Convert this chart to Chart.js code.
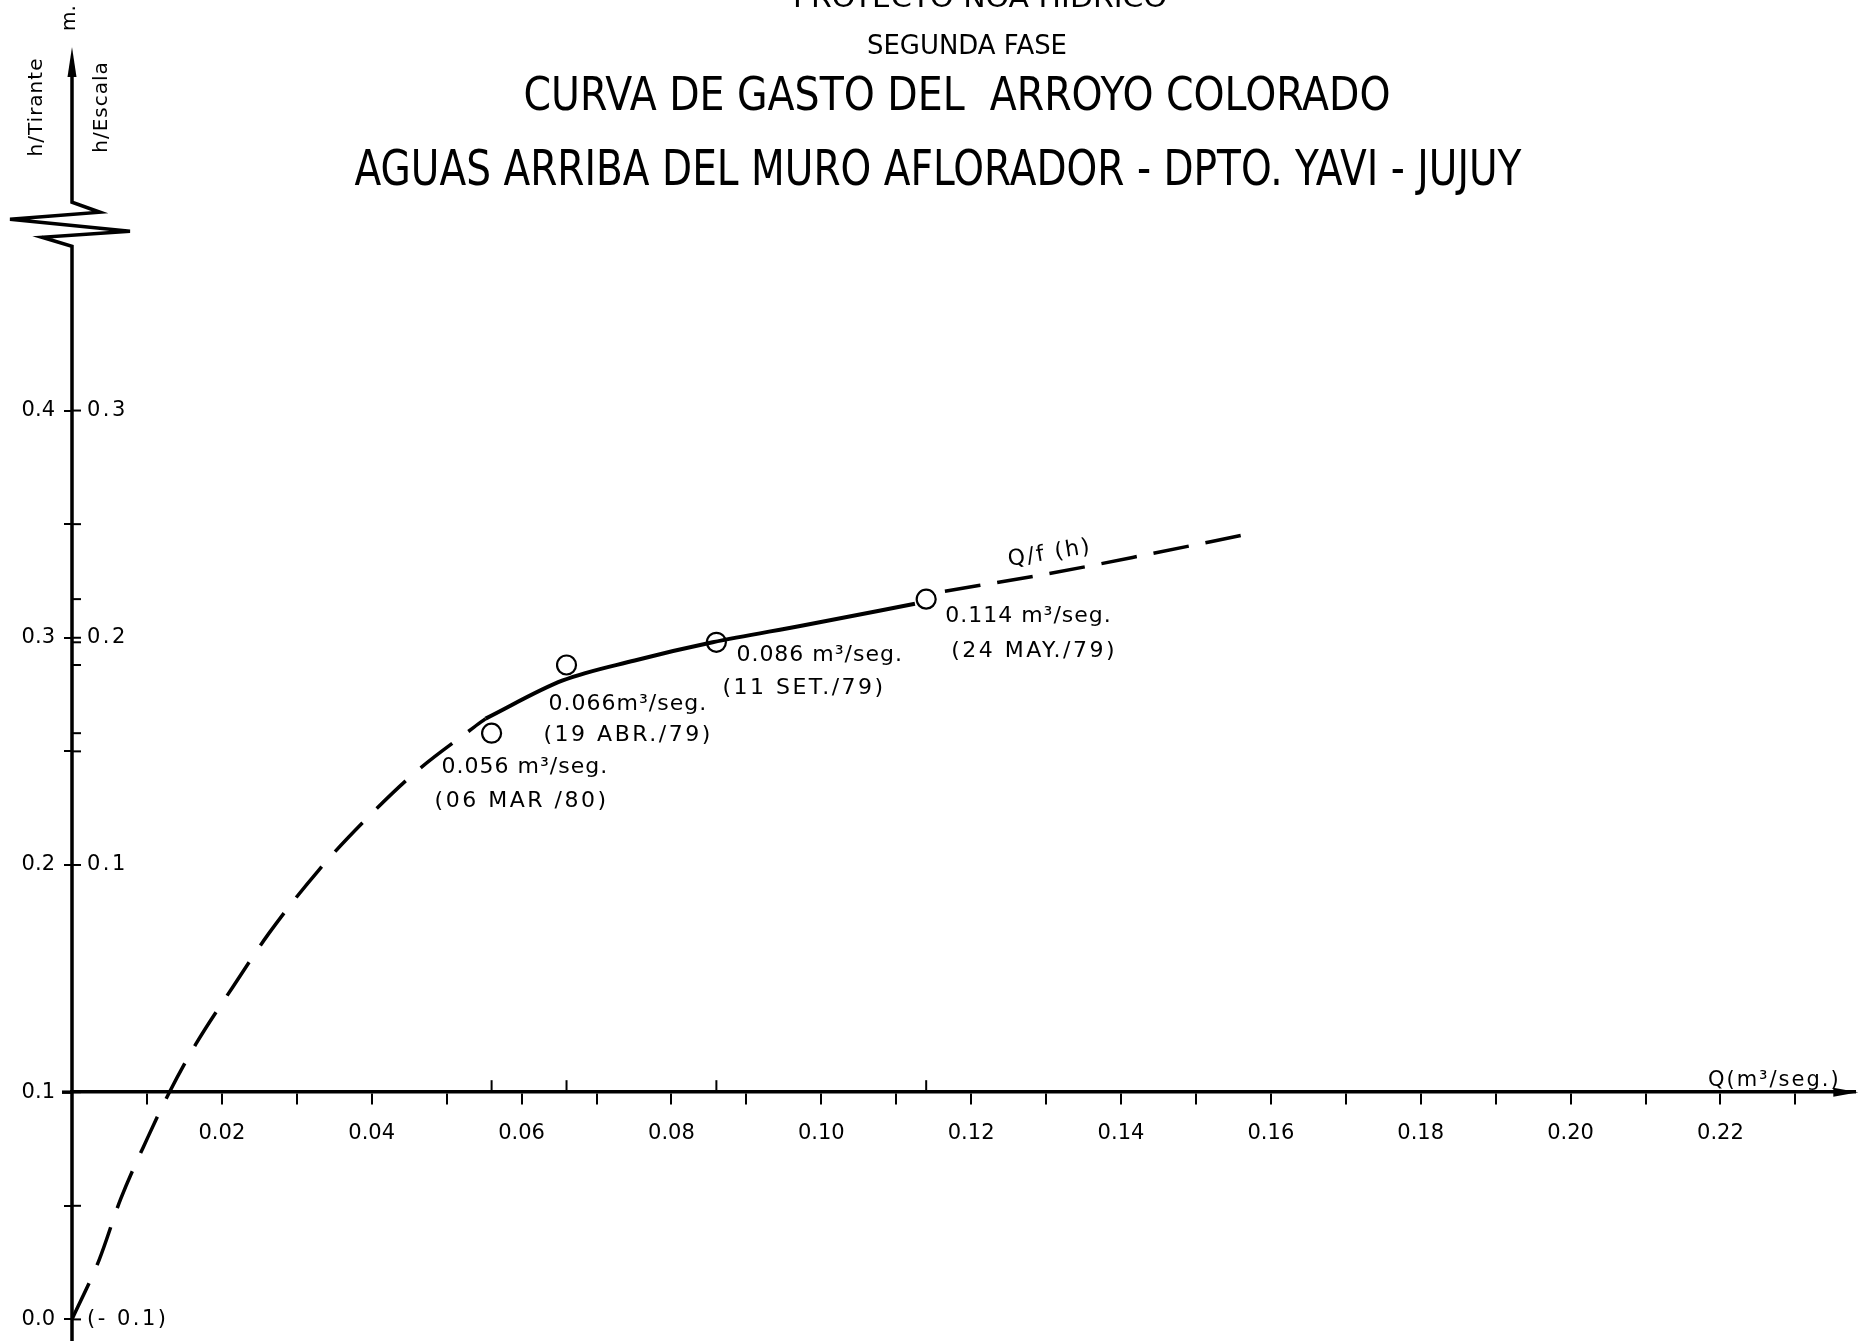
<!DOCTYPE html>
<html>
<head>
<meta charset="utf-8">
<script src="https://cdn.jsdelivr.net/npm/chart.js@4/dist/chart.umd.min.js"></script>
<style>
  html, body { margin: 0; padding: 0; background: #fff; }
  #wrap { width: 1867px; height: 1341px; }
</style>
</head>
<body>
<div id="wrap"><canvas id="curva" width="1867" height="1341"></canvas></div>
<script>
// Aforos medidos: caudal (m3/seg), tirante (m) y fecha
var aforoQ = [0.056, 0.066, 0.086, 0.114];
var aforoH = [0.258, 0.288, 0.298, 0.317];
var aforoFecha = ['(06 MAR /80)', '(19 ABR./79)', '(11 SET./79)', '(24 MAY./79)'];

// Curva Q = f(h): extrapolacion inferior, tramo ajustado y extrapolacion superior
var curvaInfQ = [0, 0.0036, 0.0065, 0.0101, 0.013, 0.0165, 0.0214, 0.0263, 0.033, 0.0392, 0.0459, 0.0534, 0.0552];
var curvaInfH = [0, 0.026, 0.053, 0.080, 0.100, 0.121, 0.146, 0.170, 0.198, 0.220, 0.241, 0.260, 0.2644];
var curvaQ = [0.0552, 0.0655, 0.0751, 0.0855, 0.0977, 0.1125];
var curvaH = [0.2644, 0.2812, 0.2900, 0.2980, 0.3055, 0.3150];
var curvaSupQ = [0.1165, 0.130, 0.1436, 0.156];
var curvaSupH = [0.3205, 0.328, 0.3367, 0.345];

// Ejes
var ejeXRotulos = [0.02, 0.04, 0.06, 0.08, 0.10, 0.12, 0.14, 0.16, 0.18, 0.20, 0.22];
var ejeYMarcas = [0, 0.05, 0.1, 0.2, 0.25, 0.3, 0.35, 0.4];
var ejeYRotulos = [0, 0.1, 0.2, 0.3, 0.4];
var escalaMarcas = [0, 0.2, 0.3, 0.4];
var escalaRotulos = ['(- 0.1)', '0.1', '0.2', '0.3'];

var titulos = ['PROYECTO NOA HIDRICO', 'SEGUNDA FASE', 'CURVA DE GASTO DEL  ARROYO COLORADO',
  'AGUAS ARRIBA DEL MURO AFLORADOR - DPTO. YAVI - JUJUY'];

var FUENTE = '"DejaVu Sans", "Liberation Sans", sans-serif';

function puntos(qs, hs) {
  return qs.map(function (q, i) { return { x: q, y: hs[i] }; });
}

function enLista(v, lista) {
  return lista.some(function (l) { return Math.abs(l - v) < 1e-6; });
}

function escribir(ctx, txt, x, y, o) {
  ctx.save();
  ctx.font = (o.size || 20) + 'px ' + FUENTE;
  ctx.letterSpacing = (o.spacing || 0) + 'px';
  ctx.textAlign = o.align || 'left';
  ctx.textBaseline = 'middle';
  ctx.fillStyle = '#000';
  ctx.translate(x, y);
  if (o.rot) ctx.rotate(o.rot);
  ctx.fillText(txt, 0, 0);
  ctx.restore();
}

// rotulos ajustados al ancho: centro x, centro y, altura de mayuscula, ancho
var titEstilo = [
  { cx: 980, cy: -3, cap: 20, w: 374 },
  { cx: 967, cy: 44, cap: 19, w: 200 },
  { cx: 957, cy: 93, cap: 34, w: 867 },
  { cx: 938, cy: 167, cap: 36, w: 1167 }
];

var rotDx = [-50, -18, 20, 19], rotDy = [34, 39, 13, 17];
var fecDx = [-57, -23, 6, 25], fecDy = [68, 70, 46, 52];
var rotSep = [' ', '', ' ', ' '];

var dibujoPlano = {
  id: 'dibujoPlano',
  afterDraw: function (chart) {
    var ctx = chart.ctx, xs = chart.scales.x, ys = chart.scales.y, area = chart.chartArea;
    var ejeX = area.left, ejeY = ys.getPixelForValue(0.1);

    ctx.save();
    ctx.strokeStyle = '#000';
    ctx.fillStyle = '#000';
    ctx.lineCap = 'butt';

    // titulos
    titulos.forEach(function (t, i) {
      var e = titEstilo[i];
      ctx.save();
      ctx.font = (e.cap / 0.73) + 'px ' + FUENTE;
      var w0 = ctx.measureText(t).width;
      ctx.translate(e.cx, e.cy + e.cap / 2);
      ctx.scale(e.w / w0, 1);
      ctx.textAlign = 'center';
      ctx.textBaseline = 'alphabetic';
      ctx.fillText(t, 0, 0);
      ctx.restore();
    });

    // eje vertical con corte y flecha
    var yc = ys.getPixelForValue(0.482);
    ctx.lineWidth = 3.5;
    ctx.beginPath();
    ctx.moveTo(ejeX, chart.height);
    ctx.lineTo(ejeX, yc + 22);
    ctx.lineTo(ejeX - 30, yc + 13);
    ctx.lineTo(ejeX + 58, yc + 7);
    ctx.lineTo(ejeX - 62, yc - 5);
    ctx.lineTo(ejeX + 28, yc - 12);
    ctx.lineTo(ejeX, yc - 22);
    ctx.lineTo(ejeX, area.top + 20);
    ctx.stroke();
    ctx.beginPath();
    ctx.moveTo(ejeX, area.top);
    ctx.lineTo(ejeX - 4.5, area.top + 30);
    ctx.lineTo(ejeX + 4.5, area.top + 30);
    ctx.closePath();
    ctx.fill();

    // prolongacion y flecha del eje de caudales
    ctx.beginPath();
    ctx.moveTo(ejeX - 10, ejeY);
    ctx.lineTo(ejeX, ejeY);
    ctx.stroke();
    ctx.beginPath();
    ctx.moveTo(area.right + 3, ejeY);
    ctx.lineTo(area.right - 22, ejeY - 4.5);
    ctx.lineTo(area.right - 22, ejeY + 4.5);
    ctx.closePath();
    ctx.fill();

    // marcas a la derecha del eje vertical
    ctx.lineWidth = 2;
    ejeYMarcas.concat(aforoH).forEach(function (v) {
      var py = ys.getPixelForValue(v);
      ctx.beginPath();
      ctx.moveTo(ejeX, py);
      ctx.lineTo(ejeX + 9, py);
      ctx.stroke();
    });

    // marcas de los aforos sobre el eje de caudales
    aforoQ.forEach(function (q) {
      var px = xs.getPixelForValue(q);
      ctx.beginPath();
      ctx.moveTo(px, ejeY);
      ctx.lineTo(px, ejeY - 12);
      ctx.stroke();
    });
    ctx.restore();

    // lecturas de escala
    escalaMarcas.forEach(function (v, i) {
      escribir(ctx, escalaRotulos[i], ejeX + 15, ys.getPixelForValue(v), { size: 21, spacing: 2.5 });
    });

    // rotulos de los aforos
    aforoQ.forEach(function (q, i) {
      var px = xs.getPixelForValue(q), py = ys.getPixelForValue(aforoH[i]);
      escribir(ctx, q.toFixed(3) + rotSep[i] + 'm³/seg.', px + rotDx[i], py + rotDy[i], { size: 22, spacing: 1 });
      escribir(ctx, aforoFecha[i], px + fecDx[i], py + fecDy[i], { size: 22, spacing: 2.5 });
    });

    // nombre de la curva y de los ejes
    escribir(ctx, 'Q/f (h)', xs.getPixelForValue(0.1305), ys.getPixelForValue(0.337), { size: 22, spacing: 2, align: 'center', rot: -0.16 });
    escribir(ctx, 'Q(m³/seg.)', area.right - 81, ejeY - 12, { size: 21, spacing: 2, align: 'center' });
    escribir(ctx, 'h/Tirante', 37, 107, { size: 20, spacing: 1, align: 'center', rot: -Math.PI / 2 });
    escribir(ctx, 'h/Escala', 102, 107, { size: 20, spacing: 1, align: 'center', rot: -Math.PI / 2 });
    escribir(ctx, 'm.', ejeX - 2, 18, { size: 20, align: 'center', rot: -Math.PI / 2 });
  }
};

var tramo = {
  showLine: true,
  pointRadius: 0,
  borderColor: '#000',
  borderWidth: 3.5,
  borderCapStyle: 'butt',
  cubicInterpolationMode: 'monotone',
  fill: false
};

new Chart(document.getElementById('curva').getContext('2d'), {
  type: 'scatter',
  data: {
    datasets: [
      Object.assign({}, tramo, { label: 'extrapolacion inferior', data: puntos(curvaInfQ, curvaInfH), borderDash: [40, 20] }),
      Object.assign({}, tramo, { label: 'Q/f (h)', data: puntos(curvaQ, curvaH), borderWidth: 4 }),
      Object.assign({}, tramo, { label: 'extrapolacion superior', data: puntos(curvaSupQ, curvaSupH), borderDash: [36, 17] }),
      {
        label: 'aforos',
        data: puntos(aforoQ, aforoH),
        showLine: false,
        pointRadius: 9.5,
        pointStyle: 'circle',
        pointBackgroundColor: 'rgba(0,0,0,0)',
        pointBorderColor: '#000',
        pointBorderWidth: 2.2
      }
    ]
  },
  options: {
    responsive: false,
    animation: false,
    layout: { padding: { left: 0, right: 7, top: 47, bottom: 16 } },
    plugins: { legend: { display: false }, tooltip: { enabled: false } },
    scales: {
      x: {
        type: 'linear',
        position: { y: 0.1 },
        min: 0,
        max: 0.238,
        ticks: {
          stepSize: 0.01,
          includeBounds: false,
          autoSkip: false,
          maxRotation: 0,
          padding: 18,
          color: '#000',
          font: { family: FUENTE, size: 21 },
          callback: function (v) { return enLista(v, ejeXRotulos) ? v.toFixed(2) : ''; }
        },
        grid: { drawOnChartArea: false, tickLength: 11, lineWidth: 2, color: '#000' },
        border: { display: true, color: '#000', width: 3.5 }
      },
      y: {
        type: 'linear',
        position: 'left',
        min: 0,
        max: 0.56,
        afterFit: function (scale) { scale.width = 72; },
        afterBuildTicks: function (scale) {
          scale.ticks = ejeYMarcas.map(function (v) { return { value: v }; });
        },
        ticks: {
          padding: 9,
          color: '#000',
          font: { family: FUENTE, size: 21 },
          callback: function (v) { return enLista(v, ejeYRotulos) ? v.toFixed(1) : ''; }
        },
        grid: { drawOnChartArea: false, tickLength: 8, lineWidth: 2, color: '#000' },
        border: { display: false }
      }
    }
  },
  plugins: [dibujoPlano]
});
</script>
</body>
</html>
